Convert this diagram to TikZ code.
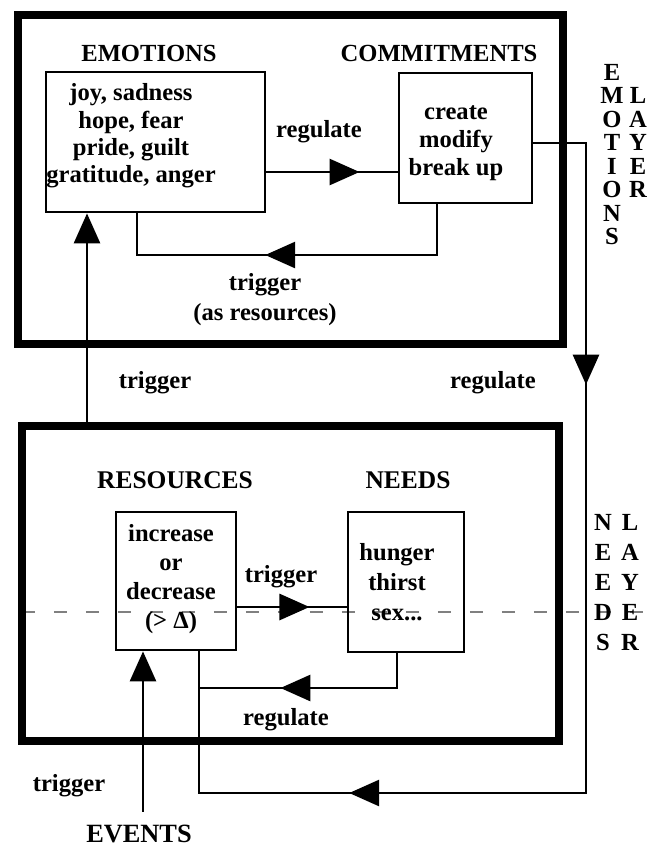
\documentclass[tikz,border=0pt]{standalone}
\usepackage{fontspec}
\setmainfont{Liberation Serif}
\usetikzlibrary{arrows.meta,decorations.markings}
\tikzset{
  box/.style={draw,line width=1.6pt,inner sep=0pt},
  layerframe/.style={draw,line width=0.17cm,inner sep=0pt},
  conn/.style={line width=1.6pt},
  tip/.style={-{Triangle[length=0.6cm,width=0.52cm]}},
  midtip/.style={postaction={decorate,decoration={markings,
    mark=at position #1 with {\arrow{Triangle[length=0.6cm,width=0.52cm]}}}}},
  lbl/.style={font=\fontsize{14}{14.8}\selectfont\bfseries,inner sep=0pt,align=center},
}
\begin{document}
\begin{tikzpicture}[x=0.02cm,y=-0.02cm]
\useasboundingbox (0,0) rectangle (649,850);
\draw[gray,line width=0.6pt,dash pattern=on 0.26cm off 0.38cm](22,612)--(649,612);
% the two layers
\node[layerframe,minimum width=10.9cm,minimum height=6.58cm](emolayer)at(290.5,179.5){};
\node[layerframe,minimum width=10.74cm,minimum height=6.3cm](needslayer)at(290.5,583.5){};
% boxes
\node[box,minimum width=4.38cm,minimum height=2.8cm](emo)at(155.5,142){};
\node[box,minimum width=2.66cm,minimum height=2.6cm](com)at(465.5,138){};
\node[box,minimum width=2.4cm,minimum height=2.76cm](res)at(176,581){};
\node[box,minimum width=2.32cm,minimum height=2.8cm](needs)at(406,582){};
\node[lbl,font=\fontsize{14}{15.6}\selectfont\bfseries](emotext)at(131,136){joy, sadness\\hope, fear\\pride, guilt\\gratitude, anger};
\node[lbl,font=\fontsize{14}{15.9}\selectfont\bfseries](comtext)at(456,143){create\\modify\\break up};
\node[lbl,font=\fontsize{14}{16.6}\selectfont\bfseries](restext)at(171,579){increase\\or\\decrease\\(> Δ)};
\node[lbl,font=\fontsize{14}{17}\selectfont\bfseries](needstext)at(397,582){hunger\\thirst\\sex...};
% titles and labels
\node[lbl](emotitle)at(149,53){EMOTIONS};
\node[lbl](comtitle)at(439,53){COMMITMENTS};
\node[lbl,font=\fontsize{14.5}{15}\selectfont\bfseries](restitle)at(175,480){RESOURCES};
\node[lbl,font=\fontsize{14.5}{15}\selectfont\bfseries](needstitle)at(408,480){NEEDS};
\node[lbl](reg1)at(319,132){regulate};
\node[lbl](trig1)at(265,285){trigger};
\node[lbl](asres)at(265,315){(as resources)};
\node[lbl](trig2)at(155,383){trigger};
\node[lbl](reg2)at(493,383){regulate};
\node[lbl](trig3)at(281,577){trigger};
\node[lbl](reg3)at(286,720){regulate};
\node[lbl](trig4)at(69,786){trigger};
\node[lbl,font=\fontsize{15}{16}\selectfont\bfseries](events)at(139,834){EVENTS};
\foreach \c [count=\i] in {E,M,O,T,I,O,N,S}
  \node[lbl](em\i)at(612,48.5+23.5*\i){\c};
\foreach \c [count=\i] in {L,A,Y,E,R}
  \node[lbl](el\i)at(638,72+23.5*\i){\c};
\foreach \c [count=\i] in {N,E,E,D,S}
  \node[lbl](ne\i)at(603,492+30*\i){\c};
\foreach \c [count=\i] in {L,A,Y,E,R}
  \node[lbl](nl\i)at(630,492+30*\i){\c};
% connectors
\coordinate(join)at(199,688);
\draw[conn,midtip=0.71](emo.east|-0,172)--(com.west|-0,172);
\draw[conn,midtip=0.567](com.south-|437,0)--(437,255)--(137,255)--(emo.south-|137,0);
\draw[conn,tip](needslayer.north-|87,0)--(emo.south-|87,0);
\draw[conn,midtip=0.239,midtip=0.763](com.east|-0,143)--(586,143)--(586,793)--(199,793)--(res.south-|199,0);
\draw[conn,midtip=0.66](res.east|-0,607)--(needs.west|-0,607);
\draw[conn,midtip=0.65](needs.south-|397,0)--(397,688)--(join);
\draw[conn,tip]([yshift=0.26cm]events.north-|143,0)--(res.south-|143,0);
\end{tikzpicture}
\end{document}
